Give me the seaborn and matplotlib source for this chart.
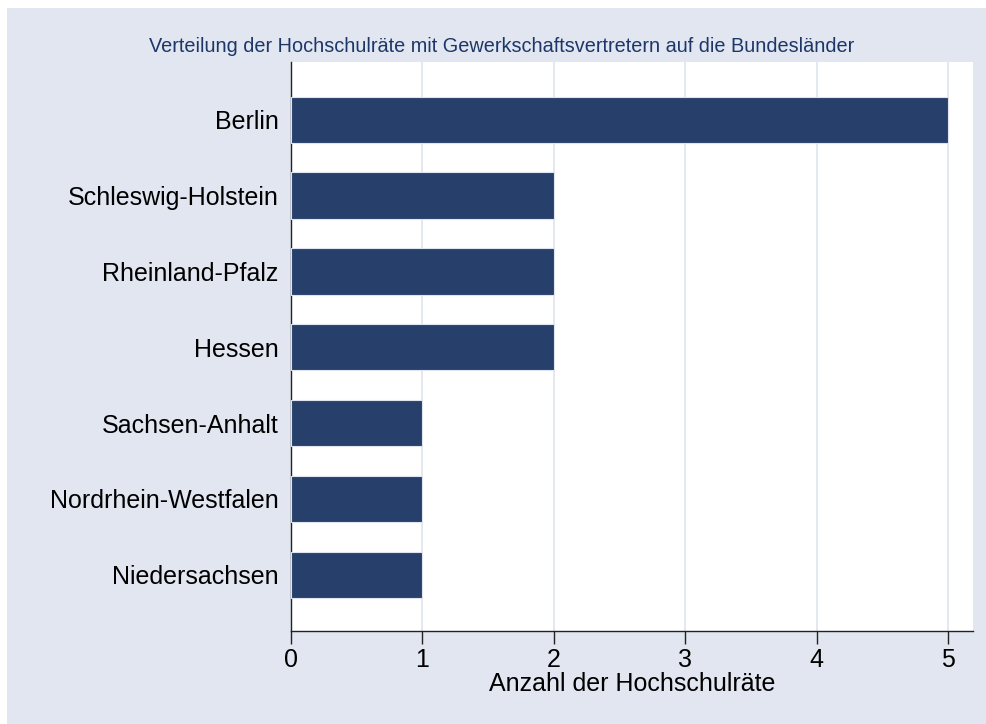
import matplotlib
matplotlib.use("Agg")
import matplotlib.pyplot as plt
import seaborn as sns
import pandas as pd
from matplotlib.patches import Rectangle

laender = ["Berlin", "Schleswig-Holstein", "Rheinland-Pfalz", "Hessen",
           "Sachsen-Anhalt", "Nordrhein-Westfalen", "Niedersachsen"]
anzahl = [5, 2, 2, 2, 1, 1, 1]
xticks = [0, 1, 2, 3, 4, 5]

df = pd.DataFrame({"land": laender, "anzahl": anzahl})

sns.set_theme(style="white")
plt.rcParams["font.family"] = ["Liberation Sans", "DejaVu Sans"]

bg = "#e1e6f0"
navy = "#273f6b"

fig = plt.figure(figsize=(9.87, 7.24), dpi=100, facecolor="white")
# hellblauer Hintergrund, links/oben ein schmaler weisser Rand
fig.patches.append(Rectangle((7 / 987, 0), 1, 1 - 8 / 724, transform=fig.transFigure,
                             facecolor=bg, edgecolor="none", zorder=-10))

ax = fig.add_axes([291 / 987, 1 - 631 / 724, (973 - 291) / 987, (631 - 62) / 724])
sns.barplot(data=df, x="anzahl", y="land", color=navy, width=0.61,
            saturation=1, edgecolor="#dfe4ee", linewidth=0.8, ax=ax, zorder=3)

ax.set_facecolor("white")
ax.set_xlim(0, 5.19)
ax.set_ylim(6.74, -0.76)
ax.set_xticks(xticks)
ax.set_xticklabels([str(t) for t in xticks])
ax.grid(axis="x", color="#e1e6f0", linewidth=1.3, zorder=0)
ax.grid(axis="y", visible=False)

for s in ["top", "right"]:
    ax.spines[s].set_visible(False)
for s in ["left", "bottom"]:
    ax.spines[s].set_color("#222222")
    ax.spines[s].set_linewidth(1.0)

ax.tick_params(axis="x", length=9, width=1, color="#222222", labelsize=18,
               labelcolor="black", pad=3, bottom=True)
ax.tick_params(axis="y", length=0, labelsize=18, labelcolor="black", pad=9)

ax.set_xlabel("Anzahl der Hochschulräte", fontsize=18, color="black", labelpad=0)
ax.set_ylabel("")

fig.text(502 / 987, 1 - 46 / 724, "Verteilung der Hochschulräte mit Gewerkschaftsvertretern auf die Bundesländer",
         ha="center", va="center", fontsize=14.3, color="#1c3768")

fig.savefig("out.png", dpi=100, facecolor=fig.get_facecolor())
